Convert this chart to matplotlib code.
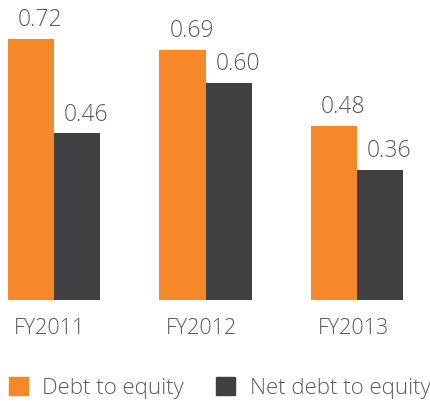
import matplotlib
matplotlib.use('Agg')
import matplotlib.pyplot as plt
import numpy as np
from matplotlib.patches import Patch

years = ['FY2011', 'FY2012', 'FY2013']
debt_to_equity = [0.72, 0.69, 0.48]
net_debt_to_equity = [0.46, 0.60, 0.36]

orange = '#f5892a'
dark = '#404042'
text_color = '#5a5a5a'

plt.rcParams['font.family'] = ['Open Sans', 'DejaVu Sans']
plt.rcParams['font.weight'] = 'light'

fig = plt.figure(figsize=(4.30, 4.01), dpi=100)
ax = fig.add_axes([0, 101 / 401, 1, 300 / 401])

x = np.arange(len(years))
w = 0.304
b1 = ax.bar(x - w / 2, debt_to_equity, w, color=orange)
b2 = ax.bar(x + w / 2, net_debt_to_equity, w, color=dark)

for bars, vals in ((b1, debt_to_equity), (b2, net_debt_to_equity)):
    for bar, v in zip(bars, vals):
        ax.text(bar.get_x() + bar.get_width() / 2 + 0.06, v + 0.018, f'{v:.2f}',
                ha='center', va='bottom', fontsize=16.5, color=text_color,
                fontweight='light')

ax.set_xlim(-54 / 151.5, (430 - 54) / 151.5)
ax.set_ylim(0, 300 / 362.5)
ax.axis('off')

for xi, lab in zip(x, years):
    fig.text((54 + 151.5 * xi - 4) / 430, 1 - 329 / 401, lab, ha='center', va='center',
             fontsize=15.5, color=text_color, fontweight='light')

handles = [Patch(color=orange, label='Debt to equity'),
           Patch(color=dark, label='Net debt to equity')]
fig.legend(handles=handles, loc='center left', bbox_to_anchor=(0.0, 1 - 388 / 401),
           ncol=2, frameon=False, fontsize=16, handlelength=0.85, handleheight=0.85,
           handletextpad=0.65, columnspacing=1.45, borderpad=0, borderaxespad=0.4,
           labelcolor=text_color)

fig.savefig('out.png', dpi=100)
